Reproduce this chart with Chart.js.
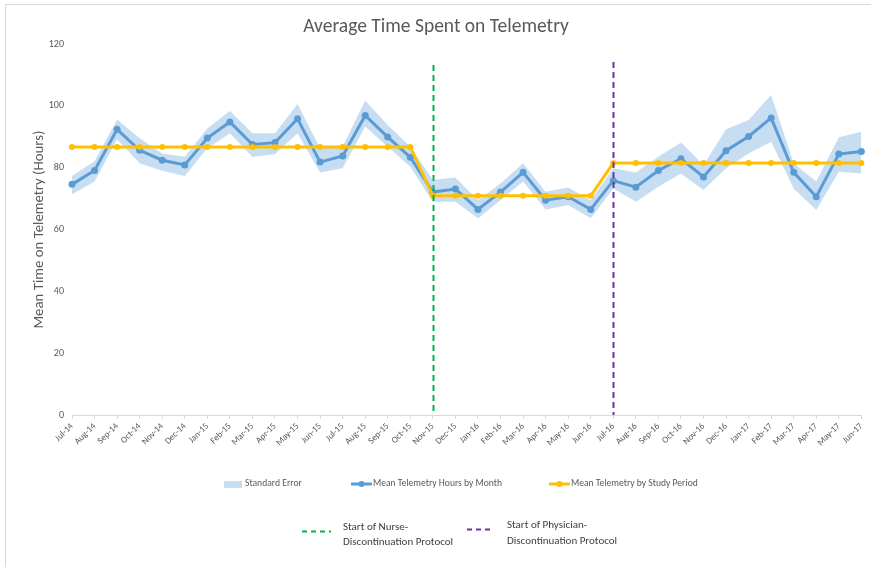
<!DOCTYPE html>
<html>
<head>
<meta charset="utf-8">
<script src="https://cdn.jsdelivr.net/npm/chart.js@4/dist/chart.umd.min.js"></script>
<style>
  html, body { margin: 0; padding: 0; background: #fff; }
  #wrap { position: relative; width: 871px; height: 567px; }
</style>
</head>
<body>
<div id="wrap"><canvas id="c" width="871" height="567"></canvas></div>
<script>
const months = ["Jul-14","Aug-14","Sep-14","Oct-14","Nov-14","Dec-14","Jan-15","Feb-15","Mar-15","Apr-15","May-15","Jun-15",
  "Jul-15","Aug-15","Sep-15","Oct-15","Nov-15","Dec-15","Jan-16","Feb-16","Mar-16","Apr-16","May-16","Jun-16",
  "Jul-16","Aug-16","Sep-16","Oct-16","Nov-16","Dec-16","Jan-17","Feb-17","Mar-17","Apr-17","May-17","Jun-17"];

const monthlyMean = [74.6,79.1,92.4,85.6,82.4,80.9,89.6,94.8,87.5,88.1,95.8,81.8,
  83.8,96.9,89.9,83.4,72.1,73.1,66.5,72.1,78.5,69.5,70.6,66.5,
  75.8,73.7,79.1,82.9,77.0,85.5,90.1,96.1,78.5,70.6,84.4,85.2];

const seUpper = [77.3,82.1,95.6,89.5,84.6,83.5,92.7,98.3,91.1,91.1,100.6,86.3,
  86.8,101.7,93.8,86.8,76.0,76.8,69.5,74.9,81.4,72.2,73.6,69.5,
  79.8,78.4,83.5,88.1,80.9,92.4,95.4,103.5,81.4,75.5,89.8,91.6];

const seLower = [71.4,75.5,89.2,81.4,79.0,77.3,86.3,91.1,83.5,84.3,91.1,78.4,
  79.8,93.3,86.8,80.3,69.0,69.0,63.6,69.5,75.5,66.5,67.9,63.6,
  73.3,69.0,73.8,78.1,72.8,79.8,84.6,88.4,73.3,66.3,78.7,78.1];

const periodMean = [86.7,86.7,86.7,86.7,86.7,86.7,86.7,86.7,86.7,86.7,86.7,86.7,
  86.7,86.7,86.7,86.7,70.9,70.9,70.9,70.9,70.9,70.9,70.9,70.9,
  81.5,81.5,81.5,81.5,81.5,81.5,81.5,81.5,81.5,81.5,81.5,81.5];

const yTicks = [0, 20, 40, 60, 80, 100, 120];

const protocolStarts = ["Nov-15", "Jul-16"];
const protocolLabels = [["Start of Nurse-", "Discontinuation Protocol"], ["Start of Physician-", "Discontinuation Protocol"]];
const protocolTops = [113.2, 114.2];

const FONT = "Carlito, Lato, 'Open Sans', sans-serif";
const GREEN = "#00B050", PURPLE = "#7030A0", BLUE = "#5B9BD5", GOLD = "#FFC000", BAND = "rgba(189,215,238,0.85)";

const decorPlugin = {
  id: 'decor',
  beforeDraw(chart) {
    const ctx = chart.ctx;
    ctx.save();
    ctx.fillStyle = '#fff';
    ctx.fillRect(0, 0, chart.width, chart.height);
    ctx.strokeStyle = '#d9d9d9';
    ctx.lineWidth = 1;
    ctx.beginPath();
    ctx.moveTo(5.5, chart.height);
    ctx.lineTo(5.5, 4.5);
    ctx.lineTo(chart.width, 4.5);
    ctx.stroke();
    // title
    ctx.fillStyle = '#595959';
    ctx.font = "19.5px " + FONT;
    ctx.textAlign = 'center';
    ctx.textBaseline = 'middle';
    ctx.fillText("Average Time Spent on Telemetry", 436, 27);
    ctx.restore();
  },
  afterDatasetsDraw(chart) {
    const ctx = chart.ctx;
    const xs = chart.scales.x, ys = chart.scales.y;
    const colors = [GREEN, PURPLE];
    ctx.save();
    protocolStarts.forEach((m, i) => {
      const x = Math.round(xs.getPixelForValue(months.indexOf(m))) + 0.5;
      ctx.strokeStyle = colors[i];
      ctx.lineWidth = 2;
      ctx.setLineDash([6, 4]);
      ctx.beginPath();
      ctx.moveTo(x, ys.getPixelForValue(protocolTops[i]));
      ctx.lineTo(x, ys.getPixelForValue(0));
      ctx.stroke();
    });
    ctx.restore();
  },
  afterDraw(chart) {
    const ctx = chart.ctx;
    ctx.save();
    ctx.font = "9.6px " + FONT;
    ctx.fillStyle = '#595959';
    ctx.textBaseline = 'middle';
    ctx.textAlign = 'left';
    const ly = 484;
    // Standard error swatch
    ctx.fillStyle = BAND;
    ctx.fillRect(224, ly - 3, 18, 7);
    ctx.fillStyle = '#595959';
    ctx.fillText("Standard Error", 245, ly);
    // blue line
    ctx.strokeStyle = BLUE; ctx.lineWidth = 3;
    ctx.beginPath(); ctx.moveTo(351, ly); ctx.lineTo(372, ly); ctx.stroke();
    ctx.fillStyle = BLUE; ctx.beginPath(); ctx.arc(361.5, ly, 3, 0, Math.PI * 2); ctx.fill();
    ctx.fillStyle = '#595959';
    ctx.fillText("Mean Telemetry Hours by Month", 373, ly);
    // gold line
    ctx.strokeStyle = GOLD; ctx.lineWidth = 3;
    ctx.beginPath(); ctx.moveTo(549, ly); ctx.lineTo(570, ly); ctx.stroke();
    ctx.fillStyle = GOLD; ctx.beginPath(); ctx.arc(559.5, ly, 3, 0, Math.PI * 2); ctx.fill();
    ctx.fillStyle = '#595959';
    ctx.fillText("Mean Telemetry by Study Period", 571, ly);

    // protocol legend
    const items = [
      { x0: 302, x1: 331, y: 531.5, tx: 343, ty: [527, 542], color: GREEN },
      { x0: 467, x1: 494, y: 529.5, tx: 507, ty: [525.5, 541], color: PURPLE }
    ];
    items.forEach((it, i) => {
      ctx.strokeStyle = it.color; ctx.lineWidth = 2;
      ctx.setLineDash([5, 4]);
      ctx.beginPath(); ctx.moveTo(it.x0, it.y); ctx.lineTo(it.x1, it.y); ctx.stroke();
      ctx.setLineDash([]);
      ctx.fillStyle = '#404040';
      ctx.font = "11px " + FONT;
      ctx.fillText(protocolLabels[i][0], it.tx, it.ty[0]);
      ctx.fillText(protocolLabels[i][1], it.tx, it.ty[1]);
    });
    ctx.restore();
  }
};

new Chart(document.getElementById('c'), {
  type: 'line',
  data: {
    labels: months,
    datasets: [
      { label: 'Mean Telemetry by Study Period', data: periodMean, borderColor: GOLD, backgroundColor: GOLD,
        borderWidth: 3, pointRadius: 3, pointBorderWidth: 0, tension: 0, fill: false, order: 0 },
      { label: 'Mean Telemetry Hours by Month', data: monthlyMean, borderColor: BLUE, backgroundColor: BLUE,
        borderWidth: 3, pointRadius: 3.5, pointBorderWidth: 0, tension: 0, fill: false, order: 1 },
      { label: 'SE lower', data: seLower, borderWidth: 0, borderColor: 'rgba(0,0,0,0)', pointRadius: 0, fill: false, order: 3 },
      { label: 'Standard Error', data: seUpper, borderWidth: 0, borderColor: 'rgba(0,0,0,0)', backgroundColor: BAND,
        pointRadius: 0, fill: '-1', order: 2 }
    ]
  },
  options: {
    responsive: false,
    animation: false,
    layout: { padding: { left: 30, right: 9, top: 44, bottom: 112 } },
    plugins: { legend: { display: false }, title: { display: false }, tooltip: { enabled: false } },
    scales: {
      x: {
        type: 'category',
        offset: false,
        grid: { display: true, drawOnChartArea: false, drawTicks: true, tickLength: 4, color: '#d9d9d9' },
        border: { display: true, color: '#d9d9d9', width: 1 },
        ticks: { autoSkip: false, minRotation: 45, maxRotation: 45, color: '#595959', font: { family: FONT, size: 9 }, padding: 2 },
        afterFit(s) { s.height = 40; }
      },
      y: {
        min: 0, max: 120,
        afterBuildTicks(s) { s.ticks = yTicks.map(v => ({ value: v })); },
        grid: { display: false, drawTicks: false },
        border: { display: false },
        ticks: { color: '#595959', font: { family: FONT, size: 10 }, padding: 8 },
        title: { display: true, text: 'Mean Time on Telemetry (Hours)', color: '#595959', font: { family: FONT, size: 14.8 }, padding: 0 },
        afterFit(s) { s.width = 42; }
      }
    }
  },
  plugins: [decorPlugin]
});
</script>
</body>
</html>
